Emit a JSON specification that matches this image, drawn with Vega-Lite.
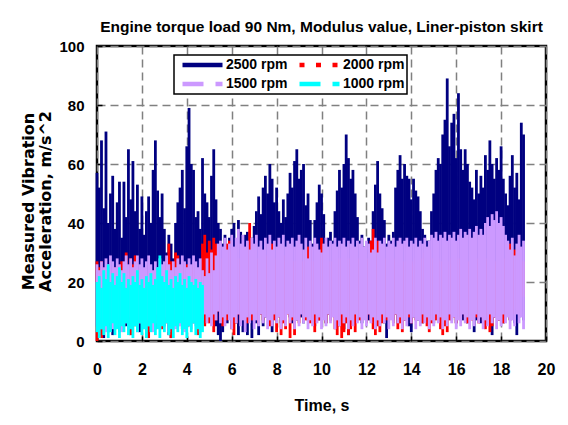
{
"$schema": "https://vega.github.io/schema/vega-lite/v6.json",
"width": 449, "height": 295,
"autosize": {"type": "none"},
"padding": {"left": 97, "top": 46, "right": 22, "bottom": 84},
"background": "white",
"title": {"text": "Engine torque load 90 Nm, Modulus value, Liner-piston skirt", "font": "Liberation Sans", "fontSize": 15.5, "fontWeight": "bold", "color": "black", "anchor": "middle", "frame": "group", "baseline": "alphabetic", "offset": 15, "dy": 23},
"config": {
  "view": {"stroke": "black", "strokeWidth": 2.5},
  "axis": {"grid": true, "gridColor": "#808080", "gridDash": [8, 5], "gridWidth": 1.5, "domain": false, "ticks": true, "tickSize": -5, "tickColor": "black", "tickWidth": 1.5, "labelFont": "Liberation Sans", "labelFontWeight": "bold", "labelColor": "black", "titleColor": "black", "titleFontWeight": "bold", "labelFlush": false, "labelOverlap": false}
},
"datasets": {
"n2500": [
{"t":0.0,"lo":5,"hi":57},{"t":0.1,"lo":2,"hi":52},{"t":0.2,"lo":6,"hi":68},{"t":0.3,"lo":1,"hi":45},{"t":0.4,"lo":7,"hi":71},{"t":0.5,"lo":3,"hi":40},{"t":0.6,"lo":8,"hi":50},{"t":0.7,"lo":2,"hi":56},{"t":0.8,"lo":6,"hi":38},{"t":0.9,"lo":9,"hi":47},
{"t":1.0,"lo":4,"hi":54},{"t":1.1,"lo":7,"hi":35},{"t":1.2,"lo":10,"hi":54},{"t":1.3,"lo":5,"hi":42},{"t":1.4,"lo":8,"hi":65},{"t":1.5,"lo":2,"hi":48},{"t":1.6,"lo":9,"hi":61},{"t":1.7,"lo":6,"hi":44},{"t":1.8,"lo":8,"hi":53},{"t":1.9,"lo":3,"hi":38},
{"t":2.0,"lo":7,"hi":49},{"t":2.1,"lo":9,"hi":36},{"t":2.2,"lo":5,"hi":44},{"t":2.3,"lo":8,"hi":49},{"t":2.4,"lo":6,"hi":40},{"t":2.5,"lo":9,"hi":58},{"t":2.6,"lo":4,"hi":68},{"t":2.7,"lo":8,"hi":51},{"t":2.8,"lo":6,"hi":42},{"t":2.9,"lo":9,"hi":50},
{"t":3.0,"lo":5,"hi":38},{"t":3.1,"lo":7,"hi":30},{"t":3.2,"lo":2,"hi":36},{"t":3.3,"lo":1,"hi":33},{"t":3.4,"lo":6,"hi":28},{"t":3.5,"lo":8,"hi":40},{"t":3.6,"lo":5,"hi":47},{"t":3.7,"lo":9,"hi":52},{"t":3.8,"lo":4,"hi":58},{"t":3.9,"lo":7,"hi":45},
{"t":4.0,"lo":8,"hi":66},{"t":4.1,"lo":5,"hi":79},{"t":4.2,"lo":9,"hi":60},{"t":4.3,"lo":6,"hi":58},{"t":4.4,"lo":8,"hi":42},{"t":4.5,"lo":3,"hi":44},{"t":4.6,"lo":7,"hi":38},{"t":4.7,"lo":9,"hi":62},{"t":4.8,"lo":6,"hi":50},{"t":4.9,"lo":8,"hi":47},
{"t":5.0,"lo":10,"hi":42},{"t":5.1,"lo":7,"hi":56},{"t":5.2,"lo":9,"hi":65},{"t":5.3,"lo":5,"hi":48},{"t":5.4,"lo":2,"hi":40},{"t":5.5,"lo":0,"hi":38},{"t":5.6,"lo":3,"hi":33},{"t":5.7,"lo":8,"hi":36},{"t":5.8,"lo":6,"hi":31},{"t":5.9,"lo":9,"hi":35},
{"t":6.0,"lo":7,"hi":38},{"t":6.1,"lo":10,"hi":40},{"t":6.2,"lo":6,"hi":34},{"t":6.3,"lo":2,"hi":41},{"t":6.4,"lo":8,"hi":37},{"t":6.5,"lo":3,"hi":33},{"t":6.6,"lo":9,"hi":36},{"t":6.7,"lo":2,"hi":37},{"t":6.8,"lo":7,"hi":32},{"t":6.9,"lo":1,"hi":35},
{"t":7.0,"lo":8,"hi":39},{"t":7.1,"lo":6,"hi":44},{"t":7.2,"lo":2,"hi":49},{"t":7.3,"lo":9,"hi":43},{"t":7.4,"lo":5,"hi":52},{"t":7.5,"lo":8,"hi":56},{"t":7.6,"lo":10,"hi":50},{"t":7.7,"lo":6,"hi":60},{"t":7.8,"lo":3,"hi":55},{"t":7.9,"lo":9,"hi":47},
{"t":8.0,"lo":7,"hi":52},{"t":8.1,"lo":10,"hi":44},{"t":8.2,"lo":6,"hi":40},{"t":8.3,"lo":9,"hi":48},{"t":8.4,"lo":7,"hi":42},{"t":8.5,"lo":10,"hi":50},{"t":8.6,"lo":8,"hi":57},{"t":8.7,"lo":6,"hi":52},{"t":8.8,"lo":9,"hi":61},{"t":8.9,"lo":7,"hi":65},
{"t":9.0,"lo":10,"hi":55},{"t":9.1,"lo":8,"hi":58},{"t":9.2,"lo":6,"hi":60},{"t":9.3,"lo":9,"hi":46},{"t":9.4,"lo":7,"hi":50},{"t":9.5,"lo":10,"hi":41},{"t":9.6,"lo":8,"hi":33},{"t":9.7,"lo":5,"hi":41},{"t":9.8,"lo":9,"hi":47},{"t":9.9,"lo":7,"hi":53},
{"t":10.0,"lo":10,"hi":50},{"t":10.1,"lo":8,"hi":43},{"t":10.2,"lo":6,"hi":32},{"t":10.3,"lo":9,"hi":35},{"t":10.4,"lo":7,"hi":37},{"t":10.5,"lo":10,"hi":34},{"t":10.6,"lo":8,"hi":44},{"t":10.7,"lo":5,"hi":51},{"t":10.8,"lo":9,"hi":58},{"t":10.9,"lo":7,"hi":52},
{"t":11.0,"lo":4,"hi":60},{"t":11.1,"lo":9,"hi":70},{"t":11.2,"lo":2,"hi":62},{"t":11.3,"lo":8,"hi":55},{"t":11.4,"lo":6,"hi":58},{"t":11.5,"lo":10,"hi":50},{"t":11.6,"lo":7,"hi":42},{"t":11.7,"lo":9,"hi":34},{"t":11.8,"lo":6,"hi":36},{"t":11.9,"lo":8,"hi":32},
{"t":12.0,"lo":10,"hi":31},{"t":12.1,"lo":7,"hi":35},{"t":12.2,"lo":9,"hi":34},{"t":12.3,"lo":6,"hi":44},{"t":12.4,"lo":8,"hi":53},{"t":12.5,"lo":10,"hi":61},{"t":12.6,"lo":7,"hi":50},{"t":12.7,"lo":9,"hi":45},{"t":12.8,"lo":6,"hi":41},{"t":12.9,"lo":1,"hi":33},
{"t":13.0,"lo":8,"hi":36},{"t":13.1,"lo":10,"hi":34},{"t":13.2,"lo":7,"hi":37},{"t":13.3,"lo":9,"hi":52},{"t":13.4,"lo":6,"hi":58},{"t":13.5,"lo":8,"hi":63},{"t":13.6,"lo":10,"hi":55},{"t":13.7,"lo":7,"hi":60},{"t":13.8,"lo":9,"hi":56},{"t":13.9,"lo":5,"hi":55},
{"t":14.0,"lo":3,"hi":48},{"t":14.1,"lo":8,"hi":55},{"t":14.2,"lo":10,"hi":51},{"t":14.3,"lo":7,"hi":49},{"t":14.4,"lo":9,"hi":44},{"t":14.5,"lo":6,"hi":38},{"t":14.6,"lo":8,"hi":36},{"t":14.7,"lo":10,"hi":34},{"t":14.8,"lo":7,"hi":34},{"t":14.9,"lo":9,"hi":44},
{"t":15.0,"lo":6,"hi":50},{"t":15.1,"lo":8,"hi":58},{"t":15.2,"lo":10,"hi":62},{"t":15.3,"lo":7,"hi":60},{"t":15.4,"lo":9,"hi":70},{"t":15.5,"lo":6,"hi":75},{"t":15.6,"lo":8,"hi":89},{"t":15.7,"lo":10,"hi":66},{"t":15.8,"lo":7,"hi":74},{"t":15.9,"lo":9,"hi":77},
{"t":16.0,"lo":6,"hi":62},{"t":16.1,"lo":8,"hi":84},{"t":16.2,"lo":10,"hi":65},{"t":16.3,"lo":7,"hi":58},{"t":16.4,"lo":9,"hi":65},{"t":16.5,"lo":6,"hi":60},{"t":16.6,"lo":8,"hi":54},{"t":16.7,"lo":10,"hi":52},{"t":16.8,"lo":3,"hi":48},{"t":16.9,"lo":7,"hi":58},
{"t":17.0,"lo":9,"hi":50},{"t":17.1,"lo":6,"hi":56},{"t":17.2,"lo":8,"hi":52},{"t":17.3,"lo":10,"hi":63},{"t":17.4,"lo":7,"hi":58},{"t":17.5,"lo":9,"hi":68},{"t":17.6,"lo":2,"hi":60},{"t":17.7,"lo":8,"hi":55},{"t":17.8,"lo":10,"hi":62},{"t":17.9,"lo":7,"hi":58},
{"t":18.0,"lo":9,"hi":66},{"t":18.1,"lo":6,"hi":55},{"t":18.2,"lo":8,"hi":50},{"t":18.3,"lo":10,"hi":46},{"t":18.4,"lo":7,"hi":56},{"t":18.5,"lo":9,"hi":63},{"t":18.6,"lo":6,"hi":52},{"t":18.7,"lo":2,"hi":57},{"t":18.8,"lo":8,"hi":48},{"t":18.9,"lo":10,"hi":74},
{"t":19.0,"lo":7,"hi":70}
],
"n2000": [
{"t":0.0,"lo":0,"hi":27},{"t":0.1,"lo":2,"hi":25},{"t":0.2,"lo":1,"hi":27},{"t":0.3,"lo":3,"hi":22},{"t":0.4,"lo":6,"hi":24},{"t":0.5,"lo":8,"hi":20},{"t":0.6,"lo":5,"hi":23},{"t":0.7,"lo":7,"hi":21},{"t":0.8,"lo":4,"hi":25},{"t":0.9,"lo":6,"hi":22},
{"t":1.0,"lo":3,"hi":24},{"t":1.1,"lo":8,"hi":27},{"t":1.2,"lo":5,"hi":26},{"t":1.3,"lo":9,"hi":30},{"t":1.4,"lo":6,"hi":25},{"t":1.5,"lo":2,"hi":28},{"t":1.6,"lo":7,"hi":26},{"t":1.7,"lo":5,"hi":29},{"t":1.8,"lo":8,"hi":24},{"t":1.9,"lo":6,"hi":22},
{"t":2.0,"lo":9,"hi":21},{"t":2.1,"lo":7,"hi":24},{"t":2.2,"lo":4,"hi":22},{"t":2.3,"lo":1,"hi":20},{"t":2.4,"lo":6,"hi":23},{"t":2.5,"lo":8,"hi":21},{"t":2.6,"lo":5,"hi":24},{"t":2.7,"lo":9,"hi":22},{"t":2.8,"lo":7,"hi":20},{"t":2.9,"lo":4,"hi":23},
{"t":3.0,"lo":8,"hi":25},{"t":3.1,"lo":6,"hi":28},{"t":3.2,"lo":9,"hi":33},{"t":3.3,"lo":1,"hi":27},{"t":3.4,"lo":7,"hi":24},{"t":3.5,"lo":5,"hi":30},{"t":3.6,"lo":8,"hi":29},{"t":3.7,"lo":6,"hi":24},{"t":3.8,"lo":9,"hi":22},{"t":3.9,"lo":7,"hi":25},
{"t":4.0,"lo":5,"hi":26},{"t":4.1,"lo":8,"hi":25},{"t":4.2,"lo":6,"hi":24},{"t":4.3,"lo":9,"hi":26},{"t":4.4,"lo":7,"hi":22},{"t":4.5,"lo":2,"hi":24},{"t":4.6,"lo":6,"hi":21},{"t":4.7,"lo":8,"hi":33},{"t":4.8,"lo":5,"hi":36},{"t":4.9,"lo":9,"hi":30},
{"t":5.0,"lo":6,"hi":34},{"t":5.1,"lo":8,"hi":31},{"t":5.2,"lo":3,"hi":35},{"t":5.3,"lo":7,"hi":33},{"t":5.4,"lo":10,"hi":30},{"t":5.5,"lo":8,"hi":28},{"t":5.6,"lo":5,"hi":26},{"t":5.7,"lo":9,"hi":27},{"t":5.8,"lo":7,"hi":33},{"t":5.9,"lo":10,"hi":34},
{"t":6.0,"lo":4,"hi":30},{"t":6.1,"lo":2,"hi":27},{"t":6.2,"lo":6,"hi":25},{"t":6.3,"lo":9,"hi":28},{"t":6.4,"lo":7,"hi":26},{"t":6.5,"lo":10,"hi":27},{"t":6.6,"lo":8,"hi":28},{"t":6.7,"lo":6,"hi":33},{"t":6.8,"lo":9,"hi":40},{"t":6.9,"lo":7,"hi":30},
{"t":7.0,"lo":10,"hi":27},{"t":7.1,"lo":8,"hi":26},{"t":7.2,"lo":6,"hi":28},{"t":7.3,"lo":9,"hi":25},{"t":7.4,"lo":7,"hi":27},{"t":7.5,"lo":10,"hi":26},{"t":7.6,"lo":8,"hi":29},{"t":7.7,"lo":5,"hi":30},{"t":7.8,"lo":9,"hi":33},{"t":7.9,"lo":7,"hi":28},
{"t":8.0,"lo":3,"hi":26},{"t":8.1,"lo":8,"hi":27},{"t":8.2,"lo":2,"hi":25},{"t":8.3,"lo":6,"hi":29},{"t":8.4,"lo":4,"hi":27},{"t":8.5,"lo":9,"hi":26},{"t":8.6,"lo":1,"hi":28},{"t":8.7,"lo":7,"hi":25},{"t":8.8,"lo":2,"hi":27},{"t":8.9,"lo":8,"hi":26},
{"t":9.0,"lo":6,"hi":28},{"t":9.1,"lo":10,"hi":25},{"t":9.2,"lo":8,"hi":27},{"t":9.3,"lo":7,"hi":30},{"t":9.4,"lo":9,"hi":32},{"t":9.5,"lo":6,"hi":31},{"t":9.6,"lo":8,"hi":27},{"t":9.7,"lo":3,"hi":26},{"t":9.8,"lo":9,"hi":28},{"t":9.9,"lo":7,"hi":30},
{"t":10.0,"lo":10,"hi":35},{"t":10.1,"lo":8,"hi":31},{"t":10.2,"lo":6,"hi":28},{"t":10.3,"lo":9,"hi":26},{"t":10.4,"lo":7,"hi":27},{"t":10.5,"lo":10,"hi":25},{"t":10.6,"lo":4,"hi":27},{"t":10.7,"lo":2,"hi":26},{"t":10.8,"lo":5,"hi":28},{"t":10.9,"lo":1,"hi":25},
{"t":11.0,"lo":3,"hi":27},{"t":11.1,"lo":6,"hi":26},{"t":11.2,"lo":2,"hi":28},{"t":11.3,"lo":4,"hi":25},{"t":11.4,"lo":7,"hi":27},{"t":11.5,"lo":3,"hi":26},{"t":11.6,"lo":9,"hi":28},{"t":11.7,"lo":7,"hi":25},{"t":11.8,"lo":10,"hi":27},{"t":11.9,"lo":8,"hi":26},
{"t":12.0,"lo":6,"hi":28},{"t":12.1,"lo":9,"hi":27},{"t":12.2,"lo":7,"hi":34},{"t":12.3,"lo":4,"hi":38},{"t":12.4,"lo":2,"hi":30},{"t":12.5,"lo":5,"hi":34},{"t":12.6,"lo":3,"hi":28},{"t":12.7,"lo":6,"hi":27},{"t":12.8,"lo":9,"hi":26},{"t":12.9,"lo":7,"hi":28},
{"t":13.0,"lo":10,"hi":27},{"t":13.1,"lo":8,"hi":26},{"t":13.2,"lo":6,"hi":28},{"t":13.3,"lo":9,"hi":27},{"t":13.4,"lo":4,"hi":26},{"t":13.5,"lo":6,"hi":28},{"t":13.6,"lo":3,"hi":25},{"t":13.7,"lo":7,"hi":27},{"t":13.8,"lo":10,"hi":26},{"t":13.9,"lo":8,"hi":28},
{"t":14.0,"lo":6,"hi":27},{"t":14.1,"lo":9,"hi":26},{"t":14.2,"lo":7,"hi":28},{"t":14.3,"lo":10,"hi":27},{"t":14.4,"lo":8,"hi":26},{"t":14.5,"lo":6,"hi":28},{"t":14.6,"lo":9,"hi":30},{"t":14.7,"lo":5,"hi":27},{"t":14.8,"lo":3,"hi":31},{"t":14.9,"lo":6,"hi":28},
{"t":15.0,"lo":9,"hi":27},{"t":15.1,"lo":7,"hi":26},{"t":15.2,"lo":10,"hi":28},{"t":15.3,"lo":4,"hi":27},{"t":15.4,"lo":2,"hi":26},{"t":15.5,"lo":5,"hi":28},{"t":15.6,"lo":3,"hi":27},{"t":15.7,"lo":7,"hi":26},{"t":15.8,"lo":10,"hi":28},{"t":15.9,"lo":8,"hi":27},
{"t":16.0,"lo":6,"hi":26},{"t":16.1,"lo":9,"hi":28},{"t":16.2,"lo":7,"hi":27},{"t":16.3,"lo":10,"hi":26},{"t":16.4,"lo":8,"hi":28},{"t":16.5,"lo":6,"hi":27},{"t":16.6,"lo":9,"hi":26},{"t":16.7,"lo":7,"hi":28},{"t":16.8,"lo":10,"hi":27},{"t":16.9,"lo":8,"hi":26},
{"t":17.0,"lo":6,"hi":28},{"t":17.1,"lo":9,"hi":27},{"t":17.2,"lo":7,"hi":26},{"t":17.3,"lo":4,"hi":28},{"t":17.4,"lo":6,"hi":27},{"t":17.5,"lo":3,"hi":26},{"t":17.6,"lo":5,"hi":28},{"t":17.7,"lo":8,"hi":27},{"t":17.8,"lo":10,"hi":26},{"t":17.9,"lo":7,"hi":28},
{"t":18.0,"lo":9,"hi":27},{"t":18.1,"lo":6,"hi":26},{"t":18.2,"lo":8,"hi":28},{"t":18.3,"lo":10,"hi":30},{"t":18.4,"lo":7,"hi":33},{"t":18.5,"lo":9,"hi":29},{"t":18.6,"lo":11,"hi":31},{"t":18.7,"lo":14,"hi":25},{"t":18.8,"lo":12,"hi":27},{"t":18.9,"lo":16,"hi":24},
{"t":19.0,"lo":15,"hi":27}
],
"n1500": [
{"t":0.0,"lo":5,"hi":26},{"t":0.1,"lo":8,"hi":24},{"t":0.2,"lo":4,"hi":27},{"t":0.3,"lo":7,"hi":25},{"t":0.4,"lo":3,"hi":28},{"t":0.5,"lo":9,"hi":26},{"t":0.6,"lo":6,"hi":29},{"t":0.7,"lo":4,"hi":27},{"t":0.8,"lo":8,"hi":25},{"t":0.9,"lo":5,"hi":28},
{"t":1.0,"lo":7,"hi":26},{"t":1.1,"lo":3,"hi":24},{"t":1.2,"lo":9,"hi":27},{"t":1.3,"lo":6,"hi":29},{"t":1.4,"lo":4,"hi":26},{"t":1.5,"lo":8,"hi":28},{"t":1.6,"lo":5,"hi":25},{"t":1.7,"lo":7,"hi":27},{"t":1.8,"lo":3,"hi":29},{"t":1.9,"lo":6,"hi":26},
{"t":2.0,"lo":9,"hi":28},{"t":2.1,"lo":4,"hi":25},{"t":2.2,"lo":7,"hi":27},{"t":2.3,"lo":5,"hi":29},{"t":2.4,"lo":8,"hi":26},{"t":2.5,"lo":3,"hi":24},{"t":2.6,"lo":6,"hi":27},{"t":2.7,"lo":9,"hi":25},{"t":2.8,"lo":4,"hi":28},{"t":2.9,"lo":7,"hi":26},
{"t":3.0,"lo":5,"hi":27},{"t":3.1,"lo":8,"hi":29},{"t":3.2,"lo":3,"hi":26},{"t":3.3,"lo":6,"hi":24},{"t":3.4,"lo":9,"hi":27},{"t":3.5,"lo":4,"hi":25},{"t":3.6,"lo":7,"hi":28},{"t":3.7,"lo":5,"hi":26},{"t":3.8,"lo":8,"hi":29},{"t":3.9,"lo":3,"hi":27},
{"t":4.0,"lo":6,"hi":25},{"t":4.1,"lo":9,"hi":28},{"t":4.2,"lo":4,"hi":26},{"t":4.3,"lo":7,"hi":29},{"t":4.4,"lo":5,"hi":27},{"t":4.5,"lo":8,"hi":25},{"t":4.6,"lo":3,"hi":28},{"t":4.7,"lo":7,"hi":24},{"t":4.8,"lo":9,"hi":22},{"t":4.9,"lo":6,"hi":28},
{"t":5.0,"lo":8,"hi":23},{"t":5.1,"lo":5,"hi":30},{"t":5.2,"lo":9,"hi":24},{"t":5.3,"lo":7,"hi":29},{"t":5.4,"lo":10,"hi":33},{"t":5.5,"lo":6,"hi":34},{"t":5.6,"lo":8,"hi":32},{"t":5.7,"lo":5,"hi":35},{"t":5.8,"lo":9,"hi":31},{"t":5.9,"lo":7,"hi":33},
{"t":6.0,"lo":4,"hi":36},{"t":6.1,"lo":8,"hi":32},{"t":6.2,"lo":6,"hi":35},{"t":6.3,"lo":9,"hi":38},{"t":6.4,"lo":5,"hi":33},{"t":6.5,"lo":7,"hi":36},{"t":6.6,"lo":3,"hi":32},{"t":6.7,"lo":8,"hi":34},{"t":6.8,"lo":6,"hi":31},{"t":6.9,"lo":9,"hi":35},
{"t":7.0,"lo":4,"hi":33},{"t":7.1,"lo":7,"hi":36},{"t":7.2,"lo":5,"hi":32},{"t":7.3,"lo":9,"hi":34},{"t":7.4,"lo":6,"hi":31},{"t":7.5,"lo":8,"hi":35},{"t":7.6,"lo":4,"hi":33},{"t":7.7,"lo":7,"hi":36},{"t":7.8,"lo":5,"hi":31},{"t":7.9,"lo":9,"hi":34},
{"t":8.0,"lo":6,"hi":32},{"t":8.1,"lo":8,"hi":35},{"t":8.2,"lo":4,"hi":33},{"t":8.3,"lo":7,"hi":36},{"t":8.4,"lo":5,"hi":32},{"t":8.5,"lo":9,"hi":34},{"t":8.6,"lo":6,"hi":33},{"t":8.7,"lo":8,"hi":35},{"t":8.8,"lo":4,"hi":32},{"t":8.9,"lo":7,"hi":34},
{"t":9.0,"lo":5,"hi":36},{"t":9.1,"lo":9,"hi":33},{"t":9.2,"lo":6,"hi":31},{"t":9.3,"lo":8,"hi":35},{"t":9.4,"lo":4,"hi":28},{"t":9.5,"lo":7,"hi":34},{"t":9.6,"lo":5,"hi":32},{"t":9.7,"lo":9,"hi":35},{"t":9.8,"lo":6,"hi":33},{"t":9.9,"lo":8,"hi":31},
{"t":10.0,"lo":4,"hi":30},{"t":10.1,"lo":7,"hi":33},{"t":10.2,"lo":5,"hi":35},{"t":10.3,"lo":9,"hi":32},{"t":10.4,"lo":6,"hi":34},{"t":10.5,"lo":8,"hi":33},{"t":10.6,"lo":4,"hi":35},{"t":10.7,"lo":7,"hi":32},{"t":10.8,"lo":5,"hi":34},{"t":10.9,"lo":9,"hi":33},
{"t":11.0,"lo":6,"hi":35},{"t":11.1,"lo":8,"hi":32},{"t":11.2,"lo":4,"hi":34},{"t":11.3,"lo":7,"hi":33},{"t":11.4,"lo":5,"hi":35},{"t":11.5,"lo":9,"hi":32},{"t":11.6,"lo":6,"hi":34},{"t":11.7,"lo":8,"hi":33},{"t":11.8,"lo":4,"hi":35},{"t":11.9,"lo":7,"hi":32},
{"t":12.0,"lo":5,"hi":34},{"t":12.1,"lo":9,"hi":33},{"t":12.2,"lo":6,"hi":30},{"t":12.3,"lo":8,"hi":31},{"t":12.4,"lo":4,"hi":35},{"t":12.5,"lo":7,"hi":30},{"t":12.6,"lo":5,"hi":34},{"t":12.7,"lo":9,"hi":33},{"t":12.8,"lo":6,"hi":35},{"t":12.9,"lo":8,"hi":32},
{"t":13.0,"lo":4,"hi":34},{"t":13.1,"lo":7,"hi":33},{"t":13.2,"lo":5,"hi":35},{"t":13.3,"lo":9,"hi":32},{"t":13.4,"lo":6,"hi":34},{"t":13.5,"lo":8,"hi":35},{"t":13.6,"lo":4,"hi":33},{"t":13.7,"lo":7,"hi":34},{"t":13.8,"lo":5,"hi":35},{"t":13.9,"lo":9,"hi":32},
{"t":14.0,"lo":6,"hi":34},{"t":14.1,"lo":8,"hi":33},{"t":14.2,"lo":4,"hi":35},{"t":14.3,"lo":7,"hi":32},{"t":14.4,"lo":5,"hi":34},{"t":14.5,"lo":9,"hi":33},{"t":14.6,"lo":6,"hi":35},{"t":14.7,"lo":8,"hi":32},{"t":14.8,"lo":4,"hi":34},{"t":14.9,"lo":7,"hi":36},
{"t":15.0,"lo":5,"hi":35},{"t":15.1,"lo":9,"hi":37},{"t":15.2,"lo":6,"hi":34},{"t":15.3,"lo":8,"hi":36},{"t":15.4,"lo":4,"hi":35},{"t":15.5,"lo":7,"hi":37},{"t":15.6,"lo":5,"hi":34},{"t":15.7,"lo":9,"hi":36},{"t":15.8,"lo":6,"hi":35},{"t":15.9,"lo":8,"hi":37},
{"t":16.0,"lo":4,"hi":34},{"t":16.1,"lo":7,"hi":36},{"t":16.2,"lo":5,"hi":38},{"t":16.3,"lo":9,"hi":35},{"t":16.4,"lo":6,"hi":37},{"t":16.5,"lo":8,"hi":36},{"t":16.6,"lo":4,"hi":38},{"t":16.7,"lo":7,"hi":35},{"t":16.8,"lo":5,"hi":37},{"t":16.9,"lo":9,"hi":39},
{"t":17.0,"lo":6,"hi":36},{"t":17.1,"lo":8,"hi":38},{"t":17.2,"lo":4,"hi":36},{"t":17.3,"lo":7,"hi":40},{"t":17.4,"lo":5,"hi":42},{"t":17.5,"lo":9,"hi":39},{"t":17.6,"lo":6,"hi":43},{"t":17.7,"lo":8,"hi":41},{"t":17.8,"lo":4,"hi":44},{"t":17.9,"lo":7,"hi":40},
{"t":18.0,"lo":5,"hi":42},{"t":18.1,"lo":9,"hi":39},{"t":18.2,"lo":6,"hi":36},{"t":18.3,"lo":8,"hi":34},{"t":18.4,"lo":4,"hi":31},{"t":18.5,"lo":7,"hi":35},{"t":18.6,"lo":5,"hi":29},{"t":18.7,"lo":9,"hi":33},{"t":18.8,"lo":6,"hi":36},{"t":18.9,"lo":8,"hi":32},
{"t":19.0,"lo":4,"hi":34}
],
"n1000": [
{"t":0.0,"lo":3,"hi":20},{"t":0.1,"lo":1,"hi":22},{"t":0.2,"lo":4,"hi":18},{"t":0.3,"lo":2,"hi":24},{"t":0.4,"lo":5,"hi":21},{"t":0.5,"lo":1,"hi":26},{"t":0.6,"lo":3,"hi":20},{"t":0.7,"lo":6,"hi":23},{"t":0.8,"lo":2,"hi":19},{"t":0.9,"lo":4,"hi":22},
{"t":1.0,"lo":1,"hi":25},{"t":1.1,"lo":5,"hi":20},{"t":1.2,"lo":3,"hi":23},{"t":1.3,"lo":6,"hi":18},{"t":1.4,"lo":2,"hi":21},{"t":1.5,"lo":4,"hi":19},{"t":1.6,"lo":1,"hi":22},{"t":1.7,"lo":5,"hi":20},{"t":1.8,"lo":3,"hi":24},{"t":1.9,"lo":6,"hi":19},
{"t":2.0,"lo":2,"hi":21},{"t":2.1,"lo":4,"hi":18},{"t":2.2,"lo":1,"hi":22},{"t":2.3,"lo":5,"hi":20},{"t":2.4,"lo":3,"hi":23},{"t":2.5,"lo":6,"hi":19},{"t":2.6,"lo":2,"hi":21},{"t":2.7,"lo":4,"hi":25},{"t":2.8,"lo":1,"hi":29},{"t":2.9,"lo":5,"hi":22},
{"t":3.0,"lo":3,"hi":20},{"t":3.1,"lo":6,"hi":24},{"t":3.2,"lo":2,"hi":19},{"t":3.3,"lo":4,"hi":21},{"t":3.4,"lo":1,"hi":18},{"t":3.5,"lo":5,"hi":22},{"t":3.6,"lo":3,"hi":20},{"t":3.7,"lo":6,"hi":23},{"t":3.8,"lo":2,"hi":19},{"t":3.9,"lo":4,"hi":21},
{"t":4.0,"lo":1,"hi":18},{"t":4.1,"lo":5,"hi":22},{"t":4.2,"lo":3,"hi":20},{"t":4.3,"lo":6,"hi":19},{"t":4.4,"lo":2,"hi":21},{"t":4.5,"lo":4,"hi":18},{"t":4.6,"lo":1,"hi":20},{"t":4.7,"lo":3,"hi":19}
]
},
"encoding": {
  "x": {"field": "t", "type": "quantitative", "scale": {"domain": [0, 20], "nice": false},
        "axis": {"values": [0,2,4,6,8,10,12,14,16,18,20], "title": "Time, s", "titleFont": "Liberation Sans", "titleFontSize": 16, "titleX": 224.5, "titleY": 69, "titleBaseline": "alphabetic", "labelFontSize": 16, "labelPadding": 25}},
  "y": {"field": "lo", "type": "quantitative", "scale": {"domain": [0, 100], "nice": false},
        "axis": {"values": [0,20,40,60,80,100], "title": ["Measured Vibration", "Acceleration, m/s^2"], "titleFont": "DejaVu Sans", "titleFontSize": 16, "titleAngle": 270, "titleAlign": "center", "titleBaseline": "middle", "titleX": -69, "titleY": 155, "titleLineHeight": 17, "labelFontSize": 15, "labelPadding": 18}},
  "y2": {"field": "hi"}
},
"layer": [
  {"data": {"name": "n2500"}, "mark": {"type": "rule", "strokeWidth": 2.8},
   "encoding": {"color": {"datum": "2500 rpm", "type": "nominal",
     "scale": {"domain": ["2500 rpm", "2000 rpm", "1500 rpm", "1000 rpm"], "range": ["#000080", "#FF0000", "#CC99FF", "#00FFFF"]},
     "legend": {"orient": "none", "legendX": 77, "legendY": 9, "direction": "horizontal", "columns": 2, "title": null,
       "strokeColor": "black", "fillColor": "white", "padding": 2, "cornerRadius": 0,
       "symbolType": "stroke", "symbolSize": 1600, "symbolStrokeWidth": 4.5, "symbolOffset": 4, "clipHeight": 16, "rowPadding": 3, "columnPadding": 5, "labelOffset": 1,
       "labelFont": "Liberation Sans", "labelFontSize": 14, "labelFontWeight": "bold", "labelColor": "black",
       "encode": {"symbols": {"update": {"strokeDash": {"signal": "datum.value === '2500 rpm' ? [] : datum.value === '2000 rpm' ? [5, 11.5] : [21, 12]"}}},
                  "legend": {"update": {"strokeWidth": {"value": 1.5}}}}}}}},
  {"data": {"name": "n2000"}, "mark": {"type": "rule", "strokeWidth": 2.8},
   "encoding": {"color": {"datum": "2000 rpm", "type": "nominal"}}},
  {"data": {"name": "n1500"}, "mark": {"type": "rule", "strokeWidth": 2.8},
   "encoding": {"color": {"datum": "1500 rpm", "type": "nominal"}}},
  {"data": {"name": "n1000"}, "mark": {"type": "rule", "strokeWidth": 2.8},
   "encoding": {"color": {"datum": "1000 rpm", "type": "nominal"}}}
]
}
